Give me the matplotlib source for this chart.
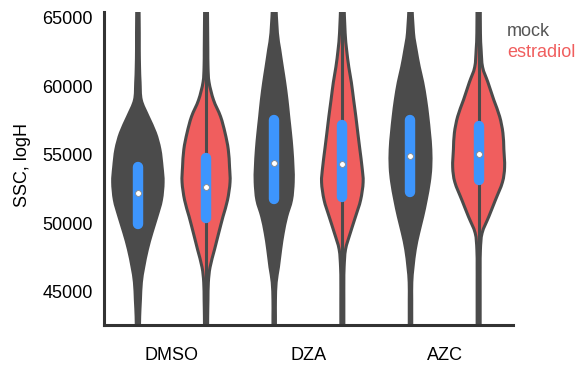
import matplotlib
matplotlib.use("Agg")
import matplotlib.pyplot as plt
from matplotlib.path import Path
from matplotlib.patches import PathPatch
import numpy as np

plt.rcParams['font.family'] = ['Liberation Sans', 'DejaVu Sans']

# groups and conditions
groups = ["DMSO", "DZA", "AZC"]
conditions = ["mock", "estradiol"]

# SSC levels where the violin half-widths were read (top to bottom)
ssc = [66000, 63900, 62700, 61400, 60300, 59000, 57800, 56600, 55400, 54100,
       53000, 51700, 50500, 49300, 48100, 46800, 45700, 44400, 43200, 42000]

# half widths of each violin (fraction of slot width)
dmso_mock = [0.016, 0.020, 0.020, 0.024, 0.032, 0.050, 0.150, 0.257, 0.323, 0.355,
             0.370, 0.345, 0.279, 0.205, 0.139, 0.085, 0.051, 0.037, 0.026, 0.022]
dmso_estr = [0.020, 0.024, 0.026, 0.029, 0.044, 0.110, 0.213, 0.279, 0.326, 0.345,
             0.352, 0.315, 0.249, 0.186, 0.125, 0.059, 0.034, 0.028, 0.024, 0.022]
dza_mock = [0.024, 0.047, 0.081, 0.120, 0.154, 0.188, 0.213, 0.239, 0.261, 0.276,
            0.279, 0.254, 0.183, 0.132, 0.095, 0.062, 0.029, 0.018, 0.018, 0.018]
dza_estr = [0.024, 0.041, 0.062, 0.095, 0.132, 0.166, 0.198, 0.227, 0.257, 0.289,
            0.305, 0.268, 0.194, 0.117, 0.047, 0.026, 0.022, 0.022, 0.022, 0.022]
azc_mock = [0.020, 0.044, 0.081, 0.129, 0.179, 0.223, 0.254, 0.279, 0.298, 0.298,
            0.276, 0.230, 0.179, 0.120, 0.070, 0.037, 0.019, 0.018, 0.018, 0.018]
azc_estr = [0.024, 0.026, 0.036, 0.058, 0.136, 0.223, 0.308, 0.356, 0.370, 0.381,
            0.349, 0.246, 0.150, 0.051, 0.026, 0.022, 0.022, 0.022, 0.022, 0.022]
widths = [dmso_mock, dmso_estr, dza_mock, dza_estr, azc_mock, azc_estr]

# quartiles and medians
q1 = [49960, 50400, 51790, 51950, 52320, 53170]
q3 = [54120, 54780, 57550, 57190, 57550, 57120]
medians = [52230, 52660, 54400, 54320, 54900, 55070]

dark = "#4b4b4b"
red = "#f05e5e"
blue = "#3d95fd"


def smooth_side(pts):
    # catmull-rom through the read points, as bezier segments
    pts = np.asarray(pts, dtype=float)
    ext = np.vstack([pts[0], pts, pts[-1]])
    verts, codes = [], []
    for k in range(1, len(ext) - 2):
        p0, p1, p2, p3 = ext[k - 1], ext[k], ext[k + 1], ext[k + 2]
        verts += [p1 + (p2 - p0) / 6, p2 - (p3 - p1) / 6, p2]
        codes += [Path.CURVE4] * 3
    return verts, codes


def violin_path(x0, w):
    w = np.array(w)
    right = np.column_stack([x0 + w, ssc])
    left = np.column_stack([x0 - w, ssc])[::-1]
    verts = [tuple(right[0])]
    codes = [Path.MOVETO]
    v, c = smooth_side(right)
    verts += v
    codes += c
    verts.append(tuple(left[0]))
    codes.append(Path.LINETO)
    v, c = smooth_side(left)
    verts += v
    codes += c
    verts.append(tuple(right[0]))
    codes.append(Path.CLOSEPOLY)
    return Path(verts, codes)


fig = plt.figure(figsize=(5.8, 3.7), dpi=100)
ax = fig.add_axes([0.179, 0.122, 0.705, 0.846])

for i, w in enumerate(widths):
    face = dark if i % 2 == 0 else red
    ax.add_patch(PathPatch(violin_path(i, w), facecolor=face, edgecolor=dark,
                           linewidth=2.2, zorder=2))
    ax.plot([i, i], [min(ssc), max(ssc)], color=dark, lw=2.2, zorder=3)
    ax.plot([i, i], [q1[i], q3[i]], color=blue, lw=7.5,
            solid_capstyle="round", zorder=4)
    ax.plot(i, medians[i], "o", ms=4.2, mfc="white", mec="#8a8a8a",
            mew=0.6, zorder=5)

ax.set_xlim(-0.5, 5.5)
ax.set_ylim(42590, 65440)
ax.set_yticks([45000, 50000, 55000, 60000, 65000])
ax.set_xticks([0.5, 2.5, 4.5])
ax.set_xticklabels(groups)
ax.tick_params(axis="both", length=0, labelsize=13, colors="black")
ax.tick_params(axis="y", pad=8)
ax.tick_params(axis="x", pad=16)

for s in ["top", "right"]:
    ax.spines[s].set_visible(False)
for s in ["left", "bottom"]:
    ax.spines[s].set_linewidth(2.2)
    ax.spines[s].set_color("#333333")
    ax.spines[s].set_zorder(6)

fig.text(0.038, 0.554, "SSC, logH", rotation=90, ha="center", va="center",
         fontsize=13)
fig.text(0.874, 0.916, conditions[0], color="#555555", fontsize=13, va="center")
fig.text(0.874, 0.857, conditions[1], color=red, fontsize=13, va="center")

fig.savefig("out.png", dpi=100)
